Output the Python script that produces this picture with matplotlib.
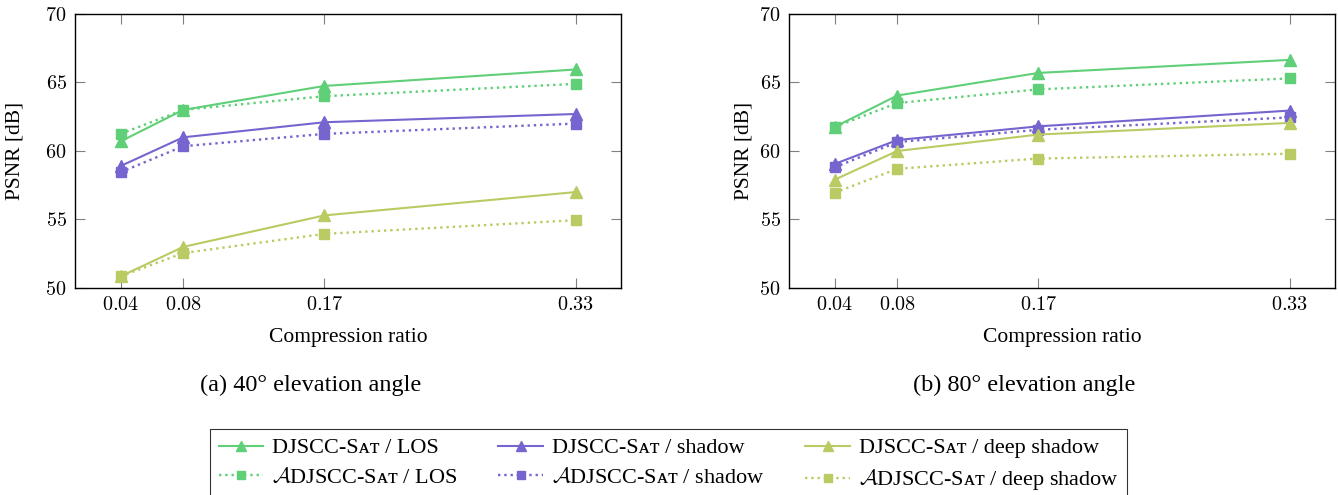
import numpy as np
import matplotlib.pyplot as plt
from matplotlib.ticker import FixedLocator, FixedFormatter

plt.rcParams['font.family'] = ['Liberation Serif', 'DejaVu Serif']
plt.rcParams['mathtext.fontset'] = 'cm'

# compression ratios
ratios = [0.04, 0.08, 0.17, 0.33]
xtick_labels = ['0.04', '0.08', '0.17', '0.33']
yticks = [50, 55, 60, 65, 70]

# (a) 40 deg elevation
a_djscc_los = [60.7, 63.0, 64.75, 65.95]
a_adjscc_los = [61.25, 63.0, 64.0, 64.9]
a_djscc_shadow = [58.9, 61.0, 62.1, 62.7]
a_adjscc_shadow = [58.45, 60.35, 61.25, 62.0]
a_djscc_deep = [50.85, 53.0, 55.3, 57.0]
a_adjscc_deep = [50.85, 52.55, 53.95, 54.95]

# (b) 80 deg elevation
b_djscc_los = [61.75, 64.05, 65.7, 66.65]
b_adjscc_los = [61.75, 63.5, 64.5, 65.3]
b_djscc_shadow = [59.05, 60.8, 61.8, 62.95]
b_adjscc_shadow = [58.8, 60.65, 61.55, 62.45]
b_djscc_deep = [57.9, 60.0, 61.2, 62.05]
b_adjscc_deep = [56.95, 58.7, 59.45, 59.8]

green = '#5fcf78'
purple = '#7664cf'
olive = '#b9cb62'

sat = 'S\u1d00\u1d1b'
labels = [
    f'DJSCC-{sat} / LOS', f'$\\mathcal{{A}}$DJSCC-{sat} / LOS',
    f'DJSCC-{sat} / shadow', f'$\\mathcal{{A}}$DJSCC-{sat} / shadow',
    f'DJSCC-{sat} / deep shadow', f'$\\mathcal{{A}}$DJSCC-{sat} / deep shadow',
]

W, H = 1338, 495
fig = plt.figure(figsize=(W / 100, H / 100), dpi=100)
ax_a = fig.add_axes([75 / W, 1 - 288 / H, 546 / W, 274 / H])
ax_b = fig.add_axes([789 / W, 1 - 288 / H, 546 / W, 274 / H])


def draw(ax, series, ylab_x):
    handles = []
    for (dj, adj), col in zip(series, [green, purple, olive]):
        h1, = ax.plot(ratios, dj, '-', marker='^', color=col, lw=1.5, ms=8)
        h2, = ax.plot(ratios, adj, ':', marker='s', color=col, lw=1.7, ms=7.5)
        handles += [h1, h2]
    ax.set_xlim(0.011, 0.359)
    ax.set_ylim(50, 70)
    ax.xaxis.set_major_locator(FixedLocator(ratios))
    ax.xaxis.set_major_formatter(FixedFormatter([f'${t}$' for t in xtick_labels]))
    ax.yaxis.set_major_locator(FixedLocator(yticks))
    ax.yaxis.set_major_formatter(FixedFormatter([f'${t}$' for t in yticks]))
    ax.tick_params(direction='in', length=7, width=0.8, color='#808080',
                   top=True, right=True, labelsize=14.5, pad=6)
    for s in ax.spines.values():
        s.set_linewidth(1.0)
    ax.set_xlabel('Compression ratio', fontsize=15.5)
    ax.xaxis.set_label_coords(0.5, -0.145)
    ax.set_ylabel('PSNR [dB]', fontsize=15.5)
    ax.yaxis.set_label_coords(ylab_x, 0.5)
    return handles


handles = draw(ax_a, [(a_djscc_los, a_adjscc_los), (a_djscc_shadow, a_adjscc_shadow),
                      (a_djscc_deep, a_adjscc_deep)], (25 - 75) / 546)
draw(ax_b, [(b_djscc_los, b_adjscc_los), (b_djscc_shadow, b_adjscc_shadow),
            (b_djscc_deep, b_adjscc_deep)], (753 - 789) / 546)

fig.text(311 / W, 1 - 385 / H, '(a) 40° elevation angle', ha='center', va='center', fontsize=17.5)
fig.text(1024 / W, 1 - 385 / H, '(b) 80° elevation angle', ha='center', va='center', fontsize=17.5)

leg = fig.legend(handles, labels, ncol=3, loc='upper left', bbox_to_anchor=(210 / W, 1 - 429 / H),
                 borderaxespad=0, fontsize=16, frameon=True, fancybox=False, edgecolor='black',
                 handlelength=2.0, columnspacing=1.85, handletextpad=0.4, borderpad=0.4,
                 labelspacing=0.4, markerscale=0.85)
leg.get_frame().set_linewidth(0.8)

fig.savefig('out.png', dpi=100)
